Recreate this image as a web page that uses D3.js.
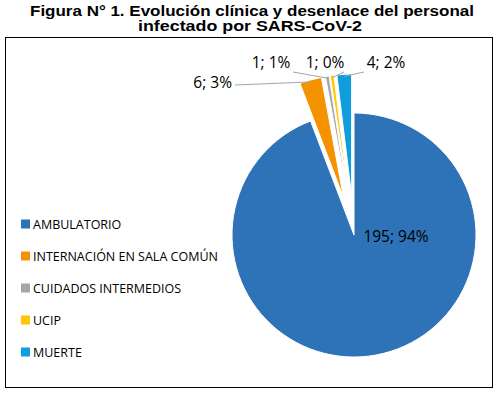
<!DOCTYPE html>
<html><head><meta charset="utf-8">
<script src="https://cdn.jsdelivr.net/npm/d3@7"></script>
<style>body{margin:0;background:#fff}</style>
</head><body>
<script>
const categories = ["AMBULATORIO","INTERNACIÓN EN SALA COMÚN","CUIDADOS INTERMEDIOS","UCIP","MUERTE"];
const values = [195, 6, 1, 1, 4];
const percentLabels = ["94%","3%","1%","0%","2%"];
const colors = ["#2E72B7","#F59200","#A6A6A6","#FFC800","#0F9EDB"];
const exploded = [false, true, true, true, true];
const titleLines = ["Figura N° 1. Evolución clínica y desenlace del personal", "infectado por SARS-CoV-2"];

const W = 501, H = 393;
const svg = d3.select("body").append("svg").attr("width", W).attr("height", H);

// title
const tStyle = s => s.attr("text-anchor","middle")
  .attr("font-family","Liberation Sans, Arial, sans-serif").attr("font-weight","bold").attr("font-size",14.5)
  .attr("lengthAdjust","spacingAndGlyphs");
svg.append("text").call(tStyle).attr("x",252).attr("y",16).attr("textLength",444).text(titleLines[0]);
svg.append("text").call(tStyle).attr("x",250).attr("y",30.5).attr("textLength",224).text(titleLines[1]);

// frame
svg.append("rect").attr("x",5.5).attr("y",37.5).attr("width",487).attr("height",350)
  .attr("fill","#fff").attr("stroke","#000").attr("stroke-width",1);

const cx = 354, cy = 235, R = 122, off = 39;
const pie = d3.pie().sort(null).value(d => d);
const arcs = pie(values);
const arc = d3.arc().innerRadius(0).outerRadius(R);
const g = svg.append("g").attr("transform", `translate(${cx},${cy})`);

function shift(a, i){
  if(!exploded[i]) return [0,0];
  const m = (a.startAngle + a.endAngle)/2;
  return [off*Math.sin(m), -off*Math.cos(m)];
}

g.selectAll("path").data(arcs).join("path")
  .attr("d", arc)
  .attr("transform", (a,i) => { const s = shift(a,i); return `translate(${s[0]},${s[1]})`; })
  .attr("fill", (a,i) => colors[i])
  .attr("stroke","#fff").attr("stroke-width",1);

const font = "Open Sans, Noto Sans, sans-serif";
// big label
g.append("text").attr("x", 42).attr("y", 7).attr("text-anchor","middle")
  .attr("font-family",font).attr("font-size",15.5).attr("fill","#000")
  .text(values[0] + "; " + percentLabels[0]);

// small labels with leader lines (label positions, relative to pie centre)
const labelPos = [null, [-122, -147, "end"], [-83, -167, "middle"], [-29, -167, "middle"], [32, -167, "middle"]];
const leaderStart = [null, [-119, -150], [-61, -163], [-10, -163], [10, -163]];
for (let i = 1; i < values.length; i++){
  const a = arcs[i];
  const s = shift(a,i);
  const m = (a.startAngle + a.endAngle)/2;
  const px = s[0] + (R-2)*Math.sin(m), py = s[1] - (R-2)*Math.cos(m);
  const lp = labelPos[i];
  const ls = leaderStart[i];
  g.append("line")
    .attr("x1", ls[0]).attr("y1", ls[1]).attr("x2", px).attr("y2", py)
    .attr("stroke","#A6A6A6").attr("stroke-width",1);
  g.append("text").attr("x", lp[0]).attr("y", lp[1]).attr("text-anchor", lp[2])
    .attr("font-family",font).attr("font-size",15.5).attr("fill","#000")
    .text(values[i] + "; " + percentLabels[i]);
}

// legend
const leg = svg.append("g");
categories.forEach((c,i) => {
  const y = 224 + i*32;
  leg.append("rect").attr("x",21).attr("y",y-4.5).attr("width",9).attr("height",9).attr("fill",colors[i]);
  leg.append("text").attr("x",33).attr("y",y+4.5).attr("font-family",font).attr("font-size",12.5)
    .attr("fill","#000").text(c);
});
</script>
</body></html>
